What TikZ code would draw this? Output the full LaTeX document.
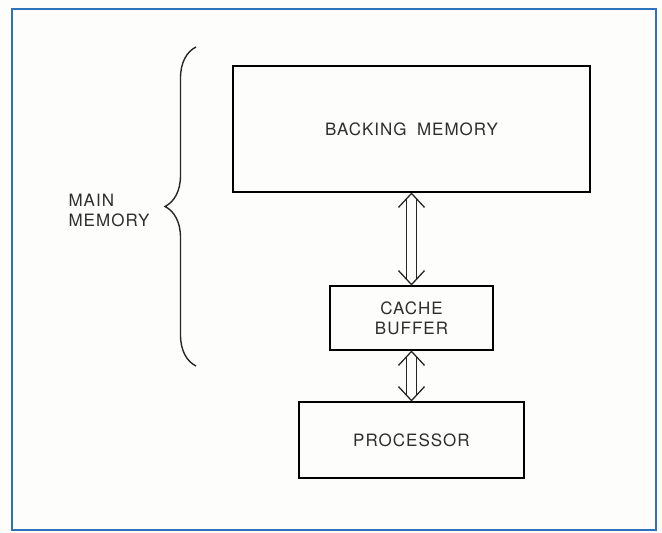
\documentclass[tikz,border=0pt]{standalone}
\usepackage{fontspec}
\setmainfont{TeX Gyre Heros}[LetterSpace=6,WordSpace=1.8]
\usetikzlibrary{calc,decorations.pathreplacing}

\definecolor{rahmen}{HTML}{2F72BC}
\definecolor{papier}{HTML}{FDFDFB}
\definecolor{schrift}{HTML}{2E2E2E}

\begin{document}
\begin{tikzpicture}[x=1pt,y=-1pt,
	block/.style={draw=black, line width=2.8pt, fill=papier, text=schrift,
		align=center, inner sep=0pt, font=\fontsize{17}{20}\selectfont},
	pfeil/.style={line width=1.3pt, black!85},
	klammer/.style={line width=1.4pt, black!85, decorate,
		decoration={brace, amplitude=31pt}}]

	% Hintergrund und Rahmen
	\fill[papier] (0,0) rectangle (662,533);
	\useasboundingbox (0,0) rectangle (662,533);
	\draw[rahmen, line width=2.5pt] (12,9) rectangle (656,530);

	% Abstaende der Doppellinien
	\def\ab{5}
	\def\sb{13}
	\def\sh{14}

	% Bloecke
	\node[block, minimum width=357pt, minimum height=126pt] (backing) at (411.5,129) {BACKING MEMORY};
	\node[block, minimum width=163pt, minimum height=64pt] (cache) at (411.5,318) {CACHE\\BUFFER};
	\node[block, minimum width=225pt, minimum height=76pt] (proc) at (411.5,440) {PROCESSOR};

	% Hauptspeicher-Klammer
	\coordinate (kOben) at (196,47);
	\coordinate (kUnten) at (196,366);
	\draw[klammer] (kUnten) -- (kOben);
	\node[text=schrift, align=left, anchor=west, font=\fontsize{17}{20}\selectfont]
		(mainmem) at (65,210) {MAIN\\MEMORY};

	% Doppelpfeil Backing -- Cache
	\draw[pfeil] ($(backing.south)+(-\sb,\sh)$) -- (backing.south) -- ($(backing.south)+(\sb,\sh)$);
	\draw[pfeil] ($(cache.north)+(-\sb,-\sh)$) -- (cache.north) -- ($(cache.north)+(\sb,-\sh)$);
	\draw[pfeil] ($(backing.south)+(-\ab,5.4)$) -- ($(cache.north)+(-\ab,-5.4)$);
	\draw[pfeil] ($(backing.south)+(\ab,5.4)$) -- ($(cache.north)+(\ab,-5.4)$);

	% Doppelpfeil Cache -- Prozessor
	\draw[pfeil] ($(cache.south)+(-\sb,\sh)$) -- (cache.south) -- ($(cache.south)+(\sb,\sh)$);
	\draw[pfeil] ($(proc.north)+(-\sb,-\sh)$) -- (proc.north) -- ($(proc.north)+(\sb,-\sh)$);
	\draw[pfeil] ($(cache.south)+(-\ab,5.4)$) -- ($(proc.north)+(-\ab,-5.4)$);
	\draw[pfeil] ($(cache.south)+(\ab,5.4)$) -- ($(proc.north)+(\ab,-5.4)$);

\end{tikzpicture}
\end{document}
